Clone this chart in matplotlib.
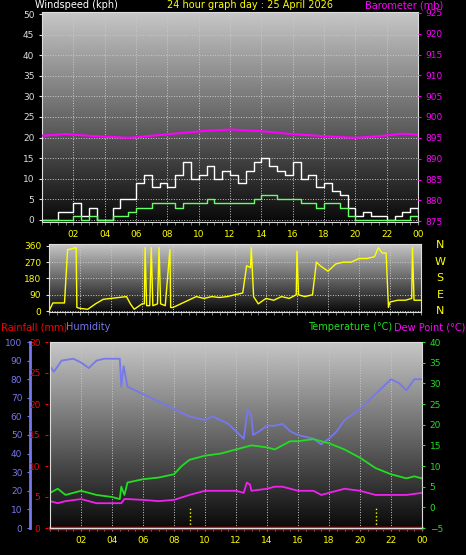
import numpy as np
import matplotlib
matplotlib.use("Agg")
import matplotlib.pyplot as plt

W, H = 466, 555

# wind, half-hourly 00:00 .. 24:00
wind_t = [i * 0.5 for i in range(49)]
gust = [0, 0, 2, 2, 4, 1, 3, 0, 0, 3, 5, 5, 9, 11, 8, 9, 8, 11, 14, 10, 11, 13, 10, 12, 11,
        9, 12, 14, 15, 13, 12, 11, 14, 10, 11, 8, 9, 7, 6, 3, 1, 2, 1, 1, 0, 1, 2, 3, 2]
avg = [0, 0, 0, 0, 1, 0, 1, 0, 0, 1, 1, 2, 3, 3, 4, 4, 4, 3, 4, 4, 4, 5, 4, 4, 4,
       4, 4, 5, 6, 6, 5, 5, 5, 4, 4, 3, 4, 4, 3, 1, 0, 0, 0, 0, 0, 0, 0, 1, 0]

baro_t = [0, 1.5, 3, 5.5, 7, 9, 10.5, 12, 14, 16, 18, 20, 21.5, 23, 24]
baro = [895.5, 895.9, 895.5, 895.0, 895.5, 896.2, 896.7, 897.0, 896.6, 895.9, 895.4, 895.0, 895.4, 896.0, 895.8]

dir_t = [0, 0.25, 1, 1.2, 1.3, 1.75, 1.8, 2, 2.5, 3, 3.5, 4, 5, 5.25, 5.5, 6, 6.15, 6.2, 6.3, 6.5, 6.6, 6.7,
         7, 7.1, 7.2, 7.5, 7.8, 7.85, 8, 8.5, 9, 9.5, 10, 10.5, 11, 11.5, 12, 12.5, 12.75, 13, 13.05, 13.2,
         13.5, 14, 14.5, 15, 15.5, 15.95, 16, 16.1, 16.5, 17, 17.25, 17.5, 18, 18.5, 19, 19.5, 20, 20.5,
         21, 21.25, 21.5, 21.75, 21.9, 22, 22.5, 23, 23.4, 23.45, 23.55, 24]
direction = [0, 45, 45, 340, 340, 350, 20, 15, 10, 40, 65, 70, 80, 40, 10, 40, 40, 350, 30, 30, 350, 30,
             40, 350, 40, 30, 340, 20, 20, 40, 60, 80, 70, 80, 75, 80, 90, 100, 250, 240, 350, 80,
             40, 70, 60, 80, 70, 90, 330, 90, 80, 90, 270, 250, 220, 260, 270, 270, 290, 290,
             300, 350, 320, 320, 20, 50, 60, 60, 70, 350, 60, 60]

hum_t = [0, 0.25, 0.75, 1.5, 2, 2.5, 3, 3.5, 4, 4.5, 4.6, 4.75, 5, 6, 7, 8, 9, 10, 10.5, 11, 11.5, 12,
         12.5, 12.75, 13, 13.1, 13.5, 14, 14.5, 15, 15.5, 16, 17, 17.5, 18, 18.5, 19, 20, 20.5, 21,
         21.5, 22, 22.5, 23, 23.5, 24]
humidity = [87, 84, 90, 91, 89, 86, 90, 91, 91, 91, 76, 87, 76, 72, 68, 64, 60, 58, 60, 58, 56, 52,
            48, 64, 60, 50, 52, 55, 55, 56, 52, 50, 48, 45, 48, 52, 58, 64, 68, 72,
            76, 80, 78, 74, 80, 80]

temp_t = [0, 0.5, 1, 2, 3, 4, 4.5, 4.6, 4.8, 5, 6, 7, 8, 8.5, 9, 10, 11, 12, 13, 14, 14.5, 15, 15.5,
          16, 17, 18, 19, 20, 21, 22, 23, 23.5, 24]
temp = [3.5, 4.5, 3, 4, 3, 2.5, 2, 5, 3, 6, 6.8, 7.2, 8, 10, 11.5, 12.5, 13, 14, 15, 14.5, 14, 15, 16,
        16, 16.5, 15.5, 14, 12, 9.5, 8, 7, 7.5, 7]

dew_t = [0, 0.5, 1, 2, 3, 4, 4.6, 4.8, 5, 6, 7, 8, 9, 10, 11, 12, 12.5, 12.7, 12.9, 13, 14, 14.5, 15,
         16, 17, 17.5, 18, 19, 20, 21, 22, 23, 24]
dew = [1.5, 1, 1.5, 2, 1, 1, 1, 2, 2, 1.8, 1.5, 1.8, 3, 4, 4, 4, 3.5, 6, 5.5, 4, 4.5, 5, 5,
       4, 4, 3, 3.5, 4.5, 4, 3, 3, 3, 3.5]

hour_ticks = list(range(2, 25, 2))
hour_labels = ["%02d" % (h % 24) for h in hour_ticks]

fig = plt.figure(figsize=(W / 100, H / 100), dpi=100, facecolor="black")
grad = np.linspace(0, 1, 256).reshape(-1, 1)


def panel(l, t, r, b):
    ax = fig.add_axes([l / W, 1 - b / H, (r - l) / W, (b - t) / H])
    ax.set_facecolor("black")
    ax.imshow(grad, aspect="auto", cmap="gray", vmin=-0.05, vmax=1.3, origin="lower",
              extent=(0, 1, 0, 1), transform=ax.transAxes, zorder=0)
    ax.grid(True, color="#c8c8c8", ls=":", lw=0.7)
    for s in ax.spines.values():
        s.set_color("#dddddd")
    ax.tick_params(colors="#dddddd", labelsize=6.5, length=2)
    ax.set_xlim(0, 24)
    ax.set_xticks(hour_ticks)
    ax.set_xticks(np.arange(0, 24.1, 0.5), minor=True)
    ax.tick_params(axis="x", which="both", colors="#888888", labelcolor="#ffff00")
    return ax


# --- wind / barometer
ax1 = panel(42, 12, 418, 222)
ax1.step(wind_t, gust, where="post", color="white", lw=1.0)
ax1.step(wind_t, avg, where="post", color="#66ff66", lw=1.0)
ax1.set_ylim(-0.5, 50.5)
ax1.set_yticks(range(0, 51, 5))
ax1.tick_params(axis="y", labelcolor="#dddddd")
ax1.set_xticklabels(hour_labels)
axb = ax1.twinx()
axb.plot(baro_t, baro, color="#ff00ff", lw=1.5)
axb.set_ylim(874.8, 925.2)
axb.set_yticks(range(875, 926, 5))
axb.tick_params(colors="#ff00ff", labelsize=6.5, length=2)
for s in axb.spines.values():
    s.set_visible(False)
fig.text(35 / W, 1 - 5 / H, "Windspeed (kph)", color="white", fontsize=7, va="center")
fig.text(250 / W, 1 - 5 / H, "24 hour graph day : 25 April 2026", color="#ffff00", fontsize=7, ha="center", va="center")
fig.text(443 / W, 1 - 5 / H, "Barometer (mb)", color="#ff00ff", fontsize=7, ha="right", va="center")

# --- wind direction
ax2 = panel(49, 244, 421, 312)
ax2.plot(dir_t, direction, color="#ffff00", lw=1.0)
ax2.set_ylim(-5, 370)
ax2.set_yticks(range(0, 361, 90))
ax2.tick_params(axis="y", labelcolor="#ffff00")
ax2.set_xticklabels([])
for i, c in enumerate("NWSEN"):
    fig.text(440 / W, 1 - (245 + i * 16.5) / H, c, color="#ffff00", fontsize=8, ha="center", va="center")

# --- temperature / humidity
ax3 = panel(50, 342, 422, 528)
ax3.set_ylim(-5, 40)
ax3.set_yticks([])
ax3.set_xticklabels(hour_labels)
ax3.axvline(9, ymax=0.12, color="#ffff00", ls=":", lw=1)
ax3.axvline(21, ymax=0.12, color="#ffff00", ls=":", lw=1)
ax3.plot(hum_t, [h * 0.45 - 5 for h in humidity], color="#7777ee", lw=1.3)
ax3.plot(temp_t, temp, color="#22dd22", lw=1.3)
ax3.plot(dew_t, dew, color="#ee22ee", lw=1.3)
ax3.plot([0, 24], [-5, -5], color="red", lw=2.5, clip_on=False)
axt = ax3.twinx()
axt.set_ylim(-5, 40)
axt.set_yticks(range(-5, 41, 5))
axt.tick_params(colors="#22dd22", labelsize=6.5, length=2)
for s in axt.spines.values():
    s.set_visible(False)

axh = fig.add_axes([30 / W, 1 - 528 / H, 0.001, 186 / H])
axh.set_ylim(0, 100)
axh.set_yticks(range(0, 101, 10))
axh.set_xticks([])
axh.tick_params(colors="#7777ee", labelsize=6.5, length=2)
for k, s in axh.spines.items():
    s.set_visible(k == "right")
axh.spines["right"].set_color("#7777ee")
axh.spines["right"].set_linewidth(2)
axh.set_facecolor("black")

axr = fig.add_axes([48 / W, 1 - 528 / H, 0.001, 186 / H])
axr.set_ylim(0, 30)
axr.set_yticks(range(0, 31, 5))
axr.set_xticks([])
axr.tick_params(colors="red", labelsize=6.5, length=2)
for k, s in axr.spines.items():
    s.set_visible(False)
axr.set_facecolor("black")

fig.text(1 / W, 1 - 327 / H, "Rainfall (mm)", color="red", fontsize=7, va="center")
fig.text(66 / W, 1 - 327 / H, "Humidity", color="#7777ee", fontsize=7, va="center")
fig.text(392 / W, 1 - 327 / H, "Temperature (\u00b0C)", color="#22dd22", fontsize=7, ha="right", va="center")
fig.text(465 / W, 1 - 327 / H, "Dew Point (\u00b0C)", color="#ff00ff", fontsize=7, ha="right", va="center")

fig.savefig("out.png", dpi=100, facecolor="black")
